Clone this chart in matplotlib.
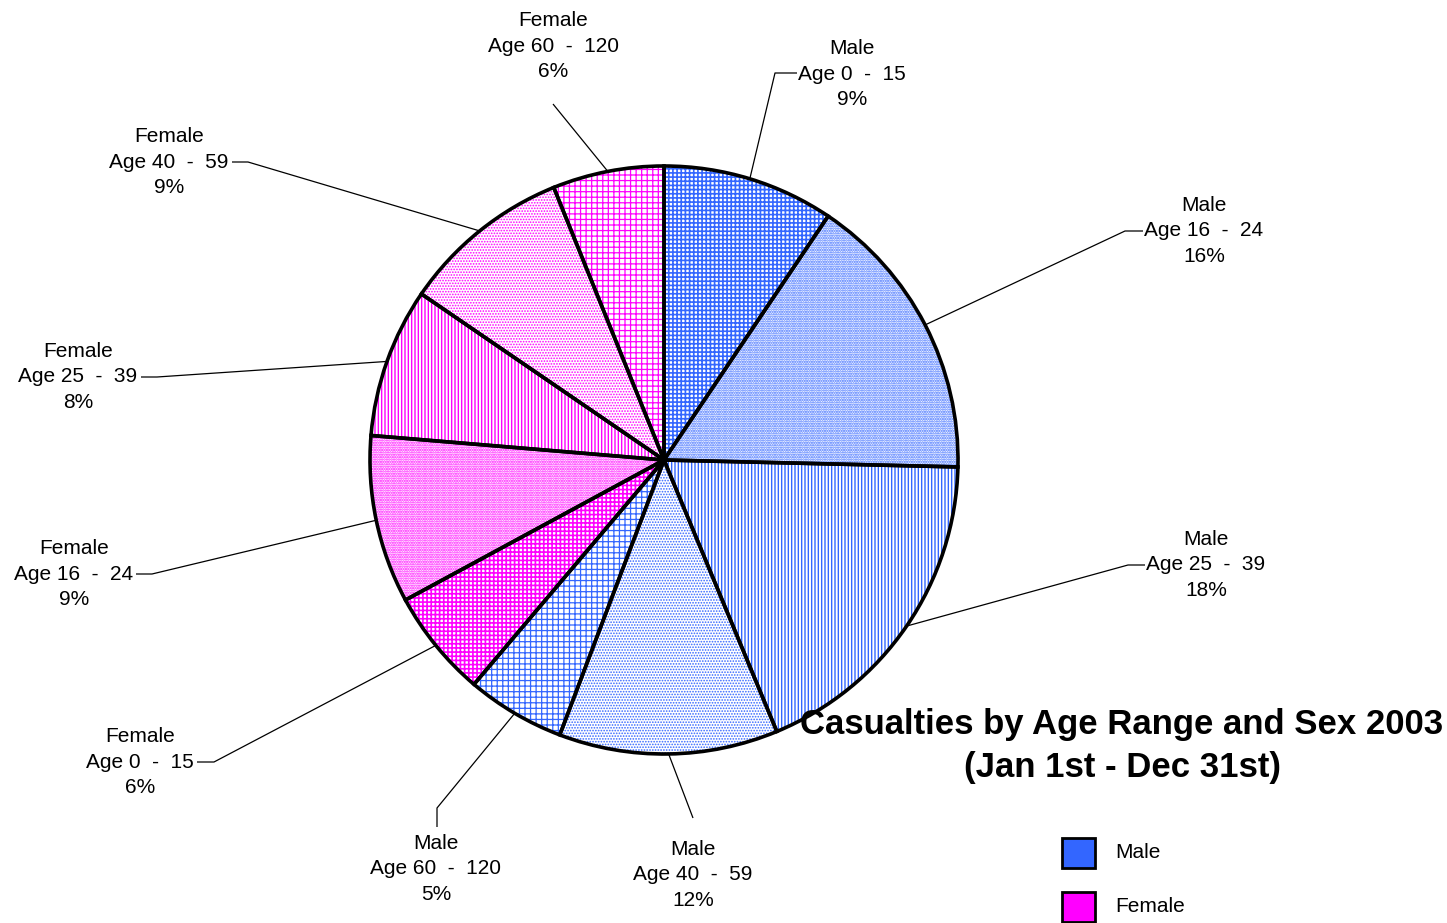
import matplotlib
matplotlib.use("Agg")
import matplotlib.pyplot as plt
import numpy as np
from matplotlib.patches import Rectangle

plt.rcParams['font.family'] = ['Liberation Sans', 'DejaVu Sans']

sexes = ["Male"] * 5 + ["Female"] * 5
ages = ["0  -  15", "16  -  24", "25  -  39", "40  -  59", "60  -  120"] * 2
values = [9.4, 15.9, 18.3, 12.0, 5.4, 5.9, 9.2, 8.2, 9.3, 6.1]
sex_colors = {"Male": "#3366FF", "Female": "#FF00FF"}
title = "Casualties by Age Range and Sex 2003\n(Jan 1st - Dec 31st)"

W, H = 1447, 923
fig = plt.figure(figsize=(W / 100, H / 100), dpi=100)
ax = fig.add_axes([0, 0, 1, 1])

cx, cy, R = 664, H - 460, 294
hatches = ['++++', '.......', '|||||', '......', '+++']
hw = [1.2, 1.1, 1.0, 0.8, 0.9]
colors = [sex_colors[s] for s in sexes]

plt.rcParams['hatch.linewidth'] = 1.0
wedges, _ = ax.pie(values, center=(cx, cy), radius=R, startangle=90,
                   counterclock=False, colors=['white'] * 10,
                   wedgeprops=dict(linewidth=0), frame=True)
for i, w in enumerate(wedges):
    w.set_edgecolor(colors[i])
    w.set_hatch(hatches[i % 5])
    w.set_linewidth(0)
    w.set_facecolor('white')
    if hasattr(w, 'set_hatch_linewidth'):
        w.set_hatch_linewidth(hw[i % 5])
ax.pie(values, center=(cx, cy), radius=R, startangle=90, counterclock=False,
       colors=['none'] * 10, wedgeprops=dict(linewidth=2.6, edgecolor='black',
                                              fill=False), frame=True)
ax.set_xlim(0, W)
ax.set_ylim(0, H)
ax.set_aspect('equal')
ax.axis('off')

total = sum(values)
# label layout: (text center x, middle line y in px, leader elbow, leader end)
layout = [
    (852, 74, (775, 73), (797, 73)),
    (1204, 231, (1125, 231), (1143, 231)),
    (1206, 565, (1128, 565), (1145, 565)),
    (693, 875, (693, 818), (693, 818)),
    (436, 869, (437, 808), (437, 827)),
    (140, 762, (214, 762), (197, 762)),
    (74, 574, (152, 574), (136, 574)),
    (78, 377, (157, 377), (141, 377)),
    (169, 162, (248, 162), (232, 162)),
    (553, 46, (553, 104), (553, 104)),
]
cum = 0
for i, v in enumerate(values):
    mid = (cum + v / 2) / total * 2 * np.pi
    cum += v
    ex = cx + R * np.sin(mid)
    ey = cy + R * np.cos(mid)
    tx, ty, elbow, end = layout[i]
    ax.plot([ex, elbow[0], end[0]], [ey, H - elbow[1], H - end[1]],
            color='black', lw=0.9, solid_capstyle='butt')
    pct = round(v / total * 100)
    ax.text(tx, H - ty, f"{sexes[i]}\nAge {ages[i]}\n{pct}%", ha='center',
            va='center', fontsize=15, linespacing=1.45)

ax.text(1122, H - 746, title, ha='center', va='center', fontsize=25,
        fontweight='bold', linespacing=1.4)

for j, s in enumerate(["Male", "Female"]):
    y0 = 838 + j * 54
    ax.add_patch(Rectangle((1062, H - y0 - 30), 33, 30, facecolor=sex_colors[s],
                           edgecolor='black', lw=2))
    ax.text(1115, H - y0 - 14, s, ha='left', va='center', fontsize=15)

fig.savefig("out.png", dpi=100)
